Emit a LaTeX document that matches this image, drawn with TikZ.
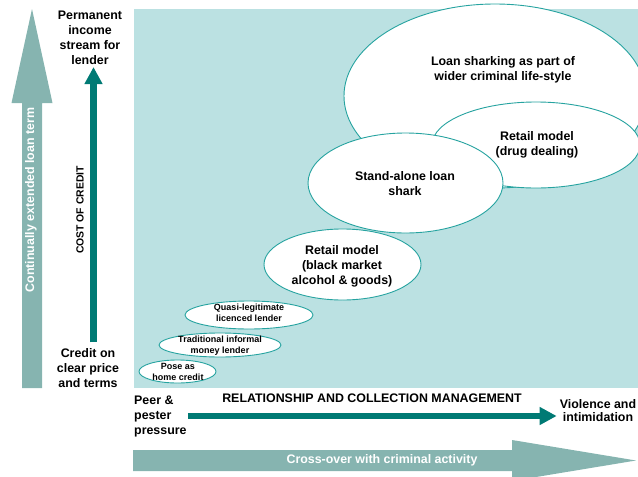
\documentclass[tikz,border=0pt]{standalone}
\usepackage{fontspec}
\setmainfont{Liberation Sans}
\usetikzlibrary{arrows.meta}
\definecolor{panel}{RGB}{187,225,226}
\definecolor{lite}{RGB}{134,180,176}
\definecolor{deep}{RGB}{0,122,116}
\definecolor{rim}{RGB}{38,163,160}
\begin{document}
\begin{tikzpicture}[x=1pt, y=-1pt, line join=round,
	bub/.style={fill=white, draw=rim, line width=0.9pt},
	txt/.style={font=\bfseries\fontsize{12.4}{15}\selectfont, align=center, inner sep=0pt},
	sml/.style={font=\bfseries\fontsize{9}{11}\selectfont, align=center, inner sep=0pt},
	darr/.style={draw=deep, line width=6.5pt, line join=miter, -{Triangle[width=17pt,length=17pt]}}]
	\useasboundingbox (0,0) rectangle (638,477);
	\fill[panel] (134,9) rectangle (638,388);
	% bubbles, back to front
	\foreach \x/\y/\a/\b in {495/96/151/92, 536/145/104/43, 405.5/183/97.5/50, 342.5/264.5/78.5/35.5, 249/315/64/14, 220/345/61/12, 177.5/371.5/38.5/11.5}
		{\filldraw[bub] (\x,\y) ellipse ({\a} and {\b});}
	\node[txt] (life) at (503,70) {Loan sharking as part of\\wider criminal life-style};
	\node[txt] (drug) at (537,145) {Retail model\\(drug dealing)};
	\node[txt] (shark) at (405,184) {Stand-alone loan\\shark};
	\node[txt] (black) at (342,266) {Retail model\\(black market\\alcohol \& goods)};
	\node[sml] (quasi) at (249,313) {Quasi-legitimate\\licenced lender};
	\node[sml] (trad) at (220,345.5) {Traditional informal\\money lender};
	\node[sml] (pose) at (178,371.5) {Pose as\\home credit};
	% vertical axis
	\fill[lite] (22,388) -- (22,103) -- (11.5,103) -- (32,9) -- (52.5,103) -- (42,103) -- (42,388) -- cycle;
	\node[txt, white, rotate=90] (cont) at (31,200) {Continually extended loan term};
	\node[txt] (perm) at (90,38) {Permanent\\income\\stream for\\lender};
	\node[txt] (credit) at (88,368) {Credit on\\clear price\\and terms};
	\coordinate (vx) at (93.5,0);
	\draw[darr, shorten <=6pt, shorten >=2pt] (credit.north -| vx) -- (perm.south -| vx);
	\node[font=\bfseries\fontsize{10.4}{12}\selectfont, inner sep=0pt, rotate=90] (cost) at (80,210) {COST OF CREDIT};
	% horizontal axis
	\node[txt, align=left, anchor=west] (peer) at (134,416) {Peer \&\\pester\\pressure};
	\node[txt, font=\bfseries\fontsize{12.4}{13}\selectfont] (viol) at (598,411) {Violence and\\intimidation};
	\node[txt] (rel) at (372,398) {RELATIONSHIP AND COLLECTION MANAGEMENT};
	\draw[darr, shorten <=1pt, shorten >=3pt] (peer.east) -- (peer.east -| viol.west);
	\fill[lite] (133,450) -- (512,450) -- (512,440) -- (636,460.5) -- (512,481) -- (512,471) -- (133,471) -- cycle;
	\node[txt, white] (cross) at (382,460) {Cross-over with criminal activity};
\end{tikzpicture}
\end{document}
